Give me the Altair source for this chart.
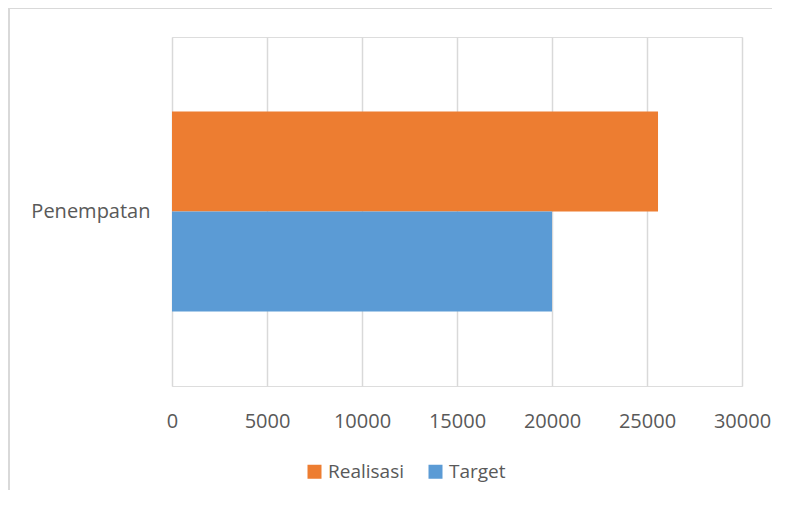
import altair as alt
import pandas as pd

categories = ["Penempatan", "Penempatan"]
series = ["Realisasi", "Target"]
values = [25580, 20000]
colors = ["#ED7D31", "#5B9BD5"]
x_ticks = [0, 5000, 10000, 15000, 20000, 25000, 30000]

df = pd.DataFrame({"Kategori": categories, "Seri": series, "Nilai": values})

bars = alt.Chart(df).mark_bar(cornerRadius=0).encode(
    y=alt.Y("Kategori:N", title=None,
            scale=alt.Scale(paddingInner=0, paddingOuter=0.3725),
            axis=alt.Axis(domain=False, ticks=False, labelPadding=22,
                          labelFontSize=20, labelColor="#595959", labelFont="Open Sans")),
    yOffset=alt.YOffset("Seri:N", sort=series, scale=alt.Scale(paddingInner=0, paddingOuter=0)),
    x=alt.X("Nilai:Q", title=None,
            scale=alt.Scale(domain=[0, 30000], nice=False),
            axis=alt.Axis(values=x_ticks, domain=False, ticks=False, grid=True,
                          gridColor="#d9d9d9", gridWidth=1.5, labelPadding=25,
                          labelFlush=False, labelOverlap=False,
                          labelFontSize=20, labelColor="#595959", labelFont="Open Sans",
                          format="d")),
    color=alt.Color("Seri:N", sort=series,
                    scale=alt.Scale(domain=series, range=colors),
                    legend=alt.Legend(title=None, orient="none", direction="horizontal",
                                      legendX=133, legendY=425, symbolType="square",
                                      symbolSize=196, symbolStrokeWidth=0, labelFontSize=19,
                                      labelColor="#595959", labelFont="Open Sans",
                                      labelOffset=4, columnPadding=21)),
)

border_top = alt.Chart(df).mark_rule(color="#d9d9d9", strokeWidth=2).encode(
    x=alt.value(-164), x2=alt.value(600), y=alt.value(-29)
)
border_left = alt.Chart(df).mark_rule(color="#d9d9d9", strokeWidth=2).encode(
    x=alt.value(-163), y=alt.value(-29), y2=alt.value(453)
)

chart = alt.layer(border_top, border_left, bars).properties(
    width=570, height=349,
    autosize=alt.AutoSizeParams(type="none"),
    padding={"left": 164, "top": 29, "right": 30, "bottom": 104},
).configure_view(stroke=None).configure(font="Open Sans")

chart.save("out.html", embed_options={"renderer": "svg", "actions": False})
